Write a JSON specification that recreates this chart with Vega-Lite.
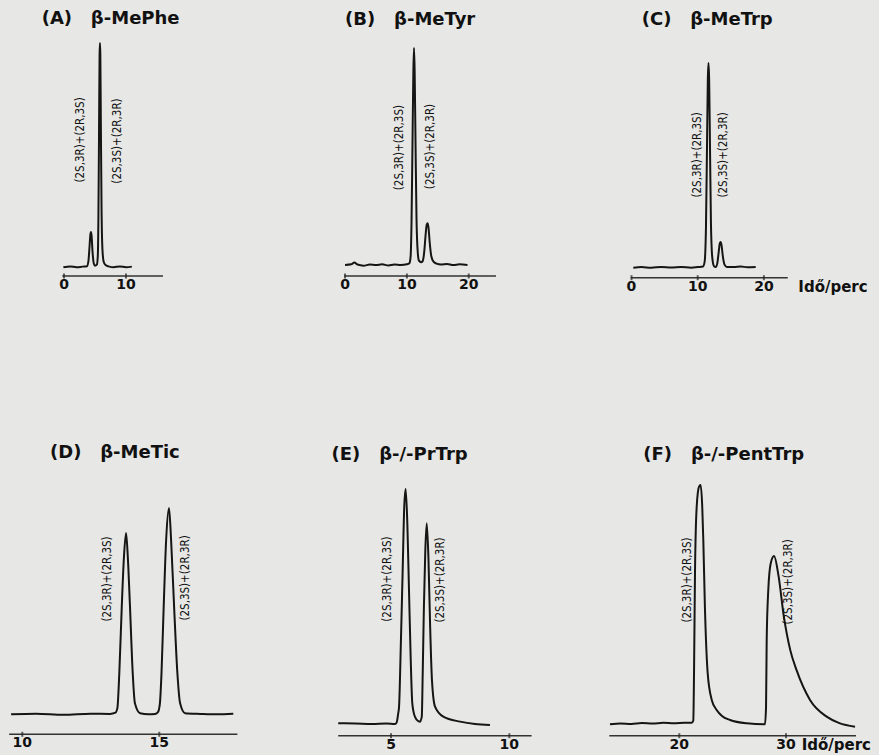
{
  "$schema": "https://vega.github.io/schema/vega-lite/v6.json",
  "width": 879,
  "height": 755,
  "autosize": {"type": "fit", "contains": "padding"},
  "padding": 0,
  "background": "#e7e7e5",
  "config": {
    "view": {"stroke": null},
    "text": {"font": "DejaVu Sans", "color": "#111111"},
    "line": {"color": "#151515", "strokeWidth": 2, "interpolate": "monotone", "strokeJoin": "round"},
    "rule": {"color": "#333333", "strokeWidth": 1.5},
    "tick": {"color": "#222222", "orient": "vertical", "size": 5, "thickness": 2}
  },
  "resolve": {"scale": {"x": "independent", "y": "independent"}},
  "layer": [
    {
      "encoding": {
        "x": {"field": "t", "type": "quantitative", "axis": null, "scale": {"domain": [-10.3226, 131.4516], "nice": false, "zero": false}},
        "y": {"field": "s", "type": "quantitative", "axis": null, "scale": {"domain": [-217.43, 119.17], "nice": false, "zero": false}}
      },
      "layer": [
        {
          "data": {"values": [
            {"t": -0.1, "s": 0}, {"t": 1.0, "s": 0.4}, {"t": 2.0, "s": 0}, {"t": 3.0, "s": 0.3}, {"t": 3.7, "s": 0.5},
            {"t": 3.95, "s": 3}, {"t": 4.1, "s": 8.5}, {"t": 4.25, "s": 14.5}, {"t": 4.35, "s": 15.7}, {"t": 4.45, "s": 14},
            {"t": 4.6, "s": 7}, {"t": 4.8, "s": 1.8}, {"t": 5.0, "s": 0.7}, {"t": 5.3, "s": 1.2}, {"t": 5.45, "s": 5},
            {"t": 5.55, "s": 22}, {"t": 5.65, "s": 60}, {"t": 5.74, "s": 95}, {"t": 5.8, "s": 100}, {"t": 5.86, "s": 95},
            {"t": 5.95, "s": 62}, {"t": 6.05, "s": 28}, {"t": 6.2, "s": 8}, {"t": 6.4, "s": 2.5}, {"t": 6.7, "s": 1},
            {"t": 7.2, "s": 0.4}, {"t": 8.0, "s": 0}, {"t": 9.0, "s": 0.4}, {"t": 10.0, "s": 0}, {"t": 10.95, "s": 0.3}
          ]},
          "mark": {"type": "line"}
        },
        {"data": {"values": [{"t": -0.27, "t1": 15.97, "s": -3.88}]}, "mark": {"type": "rule"}, "encoding": {"x2": {"field": "t1"}}},
        {
          "data": {"values": [{"t": 0, "s": -3.88}, {"t": 10, "s": -3.88}]},
          "layer": [
            {"mark": {"type": "tick"}},
            {"mark": {"type": "text", "fontSize": 14, "fontWeight": "bold", "baseline": "middle", "dy": 9}, "encoding": {"text": {"field": "t", "type": "quantitative", "format": "d"}}}
          ]
        },
        {
          "data": {"values": [{"t": 2.82, "s": 56.8, "label": "(2S,3R)+(2R,3S)"}, {"t": 8.79, "s": 56.3, "label": "(2S,3S)+(2R,3R)"}]},
          "mark": {"type": "text", "angle": 270, "font": "DejaVu Sans Condensed, Liberation Sans, sans-serif", "fontSize": 11.5, "baseline": "middle", "align": "center"},
          "encoding": {"text": {"field": "label"}}
        },
        {
          "data": {"values": [{"t": -3.6, "s": 108.5, "title": "(A)\u00a0\u00a0\u00a0β-MePhe"}]},
          "mark": {"type": "text", "fontSize": 18, "fontWeight": "bold", "align": "left", "baseline": "alphabetic"},
          "encoding": {"text": {"field": "title"}}
        }
      ]
    },
    {
      "encoding": {
        "x": {"field": "t", "type": "quantitative", "axis": null, "scale": {"domain": [-55.788, 86.33], "nice": false, "zero": false}},
        "y": {"field": "s", "type": "quantitative", "axis": null, "scale": {"domain": [-225.81, 122.12], "nice": false, "zero": false}}
      },
      "layer": [
        {
          "data": {"values": [
            {"t": 0, "s": 0}, {"t": 1, "s": 0.3}, {"t": 1.5, "s": 1.2}, {"t": 2, "s": 0.2}, {"t": 3, "s": -0.3},
            {"t": 4, "s": 0.2}, {"t": 5, "s": 0}, {"t": 6, "s": 0.3}, {"t": 7, "s": -0.2}, {"t": 8, "s": 0.2},
            {"t": 9, "s": 0}, {"t": 10, "s": 0.3}, {"t": 10.4, "s": 0.8}, {"t": 10.6, "s": 4}, {"t": 10.75, "s": 20},
            {"t": 10.9, "s": 55}, {"t": 11.05, "s": 90}, {"t": 11.15, "s": 100}, {"t": 11.25, "s": 90}, {"t": 11.4, "s": 55},
            {"t": 11.55, "s": 22}, {"t": 11.75, "s": 6}, {"t": 11.95, "s": 2}, {"t": 12.3, "s": 1.3}, {"t": 12.55, "s": 1.8},
            {"t": 12.8, "s": 6}, {"t": 13.0, "s": 13}, {"t": 13.2, "s": 18.5}, {"t": 13.36, "s": 19.2}, {"t": 13.5, "s": 17},
            {"t": 13.7, "s": 10}, {"t": 13.95, "s": 4}, {"t": 14.3, "s": 1.5}, {"t": 14.8, "s": 0.6}, {"t": 15.5, "s": 0.2},
            {"t": 16.5, "s": 0.5}, {"t": 17.5, "s": 0}, {"t": 18.5, "s": 0.3}, {"t": 19.8, "s": 0}
          ]},
          "mark": {"type": "line"}
        },
        {"data": {"values": [{"t": -0.12, "t1": 24.4, "s": -5.07}]}, "mark": {"type": "rule"}, "encoding": {"x2": {"field": "t1"}}},
        {
          "data": {"values": [{"t": 0, "s": -5.07}, {"t": 10, "s": -5.07}, {"t": 20, "s": -5.07}]},
          "layer": [
            {"mark": {"type": "tick"}},
            {"mark": {"type": "text", "fontSize": 14, "fontWeight": "bold", "baseline": "middle", "dy": 9}, "encoding": {"text": {"field": "t", "type": "quantitative", "format": "d"}}}
          ]
        },
        {
          "data": {"values": [{"t": 8.88, "s": 54.1, "label": "(2S,3R)+(2R,3S)"}, {"t": 13.9, "s": 54.6, "label": "(2S,3S)+(2R,3R)"}]},
          "mark": {"type": "text", "angle": 270, "font": "DejaVu Sans Condensed, Liberation Sans, sans-serif", "fontSize": 11.5, "baseline": "middle", "align": "center"},
          "encoding": {"text": {"field": "label"}}
        },
        {
          "data": {"values": [{"t": 0, "s": 110.6, "title": "(B)\u00a0\u00a0\u00a0β-MeTyr"}]},
          "mark": {"type": "text", "fontSize": 18, "fontWeight": "bold", "align": "left", "baseline": "alphabetic"},
          "encoding": {"text": {"field": "title"}}
        }
      ]
    },
    {
      "encoding": {
        "x": {"field": "t", "type": "quantitative", "axis": null, "scale": {"domain": [-95.393, 37.387], "nice": false, "zero": false}},
        "y": {"field": "s", "type": "quantitative", "axis": null, "scale": {"domain": [-238.06, 130.78], "nice": false, "zero": false}}
      },
      "layer": [
        {
          "data": {"values": [
            {"t": 0.27, "s": 0}, {"t": 1.5, "s": 0.3}, {"t": 3, "s": 0}, {"t": 4.5, "s": 0.4}, {"t": 6, "s": 0.1},
            {"t": 7.5, "s": 0.4}, {"t": 9, "s": 0}, {"t": 10, "s": 0.3}, {"t": 10.8, "s": 0.6}, {"t": 11.05, "s": 3},
            {"t": 11.25, "s": 20}, {"t": 11.4, "s": 58}, {"t": 11.53, "s": 92}, {"t": 11.63, "s": 100}, {"t": 11.73, "s": 92},
            {"t": 11.86, "s": 58}, {"t": 12.0, "s": 22}, {"t": 12.2, "s": 5}, {"t": 12.45, "s": 0.8}, {"t": 12.72, "s": 0.3},
            {"t": 12.95, "s": 2}, {"t": 13.15, "s": 7}, {"t": 13.35, "s": 12}, {"t": 13.47, "s": 12.5}, {"t": 13.6, "s": 11},
            {"t": 13.8, "s": 5.5}, {"t": 14.05, "s": 1.5}, {"t": 14.4, "s": 0.4}, {"t": 15.5, "s": 0.3}, {"t": 16.5, "s": 0.6},
            {"t": 17.5, "s": 0.2}, {"t": 18.76, "s": 0.4}
          ]},
          "mark": {"type": "line"}
        },
        {"data": {"values": [{"t": -0.1, "t1": 23.6, "s": -4.89}]}, "mark": {"type": "rule"}, "encoding": {"x2": {"field": "t1"}}},
        {
          "data": {"values": [{"t": 0, "s": -4.89}, {"t": 10, "s": -4.89}, {"t": 20, "s": -4.89}]},
          "layer": [
            {"mark": {"type": "tick"}},
            {"mark": {"type": "text", "fontSize": 14, "fontWeight": "bold", "baseline": "middle", "dy": 9}, "encoding": {"text": {"field": "t", "type": "quantitative", "format": "d"}}}
          ]
        },
        {
          "data": {"values": [{"t": 25.2, "s": -4.89, "unit": "Idő/perc"}]},
          "mark": {"type": "text", "fontSize": 15, "fontWeight": "bold", "align": "left", "baseline": "middle", "dy": 9},
          "encoding": {"text": {"field": "unit"}}
        },
        {
          "data": {"values": [{"t": 9.97, "s": 55.1, "label": "(2S,3R)+(2R,3S)"}, {"t": 13.97, "s": 55.1, "label": "(2S,3S)+(2R,3R)"}]},
          "mark": {"type": "text", "angle": 270, "font": "DejaVu Sans Condensed, Liberation Sans, sans-serif", "fontSize": 11.5, "baseline": "middle", "align": "center"},
          "encoding": {"text": {"field": "label"}}
        },
        {
          "data": {"values": [{"t": 1.54, "s": 118.6, "title": "(C)\u00a0\u00a0\u00a0β-MeTrp"}]},
          "mark": {"type": "text", "fontSize": 18, "fontWeight": "bold", "align": "left", "baseline": "alphabetic"},
          "encoding": {"text": {"field": "title"}}
        }
      ]
    },
    {
      "encoding": {
        "x": {"field": "t", "type": "quantitative", "axis": null, "scale": {"domain": [9.186, 41.266], "nice": false, "zero": false}},
        "y": {"field": "s", "type": "quantitative", "axis": null, "scale": {"domain": [-19.73, 346.25], "nice": false, "zero": false}}
      },
      "layer": [
        {
          "data": {"values": [
            {"t": 9.59, "s": 0}, {"t": 10.5, "s": 0.3}, {"t": 11.5, "s": -0.2}, {"t": 12.5, "s": 0.3}, {"t": 13.2, "s": 0.2},
            {"t": 13.4, "s": 0.8}, {"t": 13.47, "s": 3}, {"t": 13.54, "s": 19.9}, {"t": 13.63, "s": 52.2}, {"t": 13.71, "s": 76.4},
            {"t": 13.786, "s": 87.9}, {"t": 13.85, "s": 76.4}, {"t": 13.93, "s": 52.2}, {"t": 14.03, "s": 19.9}, {"t": 14.11, "s": 5.3},
            {"t": 14.3, "s": 0.5}, {"t": 14.6, "s": 0}, {"t": 14.85, "s": 0.2}, {"t": 14.95, "s": 1.0}, {"t": 15.02, "s": 5},
            {"t": 15.08, "s": 19.9}, {"t": 15.16, "s": 52.2}, {"t": 15.25, "s": 84.6}, {"t": 15.355, "s": 100}, {"t": 15.43, "s": 84.6},
            {"t": 15.54, "s": 52.2}, {"t": 15.66, "s": 19.9}, {"t": 15.76, "s": 5.3}, {"t": 15.94, "s": 0.5}, {"t": 16.5, "s": 0.2},
            {"t": 17.1, "s": 0}, {"t": 17.7, "s": 0.3}
          ]},
          "mark": {"type": "line"}
        },
        {"data": {"values": [{"t": 9.52, "t1": 17.85, "s": -9.69}]}, "mark": {"type": "rule"}, "encoding": {"x2": {"field": "t1"}}},
        {
          "data": {"values": [{"t": 10, "s": -9.69}, {"t": 15, "s": -9.69}]},
          "layer": [
            {"mark": {"type": "tick"}},
            {"mark": {"type": "text", "fontSize": 14, "fontWeight": "bold", "baseline": "middle", "dy": 9}, "encoding": {"text": {"field": "t", "type": "quantitative", "format": "d"}}}
          ]
        },
        {
          "data": {"values": [{"t": 13.14, "s": 65.6, "label": "(2S,3R)+(2R,3S)"}, {"t": 15.97, "s": 66.1, "label": "(2S,3S)+(2R,3R)"}]},
          "mark": {"type": "text", "angle": 270, "font": "DejaVu Sans Condensed, Liberation Sans, sans-serif", "fontSize": 11.5, "baseline": "middle", "align": "center"},
          "encoding": {"text": {"field": "label"}}
        },
        {
          "data": {"values": [{"t": 11.01, "s": 124.1, "title": "(D)\u00a0\u00a0\u00a0β-MeTic"}]},
          "mark": {"type": "text", "fontSize": 18, "fontWeight": "bold", "align": "left", "baseline": "alphabetic"},
          "encoding": {"text": {"field": "title"}}
        }
      ]
    },
    {
      "encoding": {
        "x": {"field": "t", "type": "quantitative", "axis": null, "scale": {"domain": [-11.519, 25.617], "nice": false, "zero": false}},
        "y": {"field": "s", "type": "quantitative", "axis": null, "scale": {"domain": [-13.43, 308.53], "nice": false, "zero": false}}
      },
      "layer": [
        {
          "data": {"values": [
            {"t": 2.77, "s": 0.1}, {"t": 3.5, "s": 0}, {"t": 4.2, "s": -0.2}, {"t": 4.8, "s": 0}, {"t": 5.17, "s": -0.2},
            {"t": 5.24, "s": 0.5}, {"t": 5.3, "s": 4}, {"t": 5.34, "s": 7.2}, {"t": 5.42, "s": 35.6}, {"t": 5.49, "s": 64},
            {"t": 5.56, "s": 92.5}, {"t": 5.62, "s": 100}, {"t": 5.69, "s": 85.4}, {"t": 5.76, "s": 56.9}, {"t": 5.83, "s": 28.5},
            {"t": 5.9, "s": 8.6}, {"t": 6.01, "s": 2.9}, {"t": 6.15, "s": 1.0}, {"t": 6.23, "s": 0.8}, {"t": 6.3, "s": 2.9},
            {"t": 6.34, "s": 21.4}, {"t": 6.39, "s": 49.8}, {"t": 6.45, "s": 74}, {"t": 6.51, "s": 85.4}, {"t": 6.58, "s": 71.1},
            {"t": 6.65, "s": 42.7}, {"t": 6.73, "s": 18.6}, {"t": 6.86, "s": 7.2}, {"t": 7.21, "s": 2.9}, {"t": 7.92, "s": 0.8},
            {"t": 8.55, "s": -0.2}, {"t": 9.18, "s": -0.6}
          ]},
          "mark": {"type": "line"}
        },
        {"data": {"values": [{"t": 2.77, "t1": 10.94, "s": -5.2}]}, "mark": {"type": "rule"}, "encoding": {"x2": {"field": "t1"}}},
        {
          "data": {"values": [{"t": 5, "s": -5.2}, {"t": 10, "s": -5.2}]},
          "layer": [
            {"mark": {"type": "tick"}},
            {"mark": {"type": "text", "fontSize": 14, "fontWeight": "bold", "baseline": "middle", "dy": 9}, "encoding": {"text": {"field": "t", "type": "quantitative", "format": "d"}}}
          ]
        },
        {
          "data": {"values": [{"t": 4.89, "s": 61.6, "label": "(2S,3R)+(2R,3S)"}, {"t": 7.11, "s": 61.2, "label": "(2S,3S)+(2R,3R)"}]},
          "mark": {"type": "text", "angle": 270, "font": "DejaVu Sans Condensed, Liberation Sans, sans-serif", "fontSize": 11.5, "baseline": "middle", "align": "center"},
          "encoding": {"text": {"field": "label"}}
        },
        {
          "data": {"values": [{"t": 2.49, "s": 112.4, "title": "(E)\u00a0\u00a0\u00a0β-/-PrTrp"}]},
          "mark": {"type": "text", "fontSize": 18, "fontWeight": "bold", "align": "left", "baseline": "alphabetic"},
          "encoding": {"text": {"field": "title"}}
        }
      ]
    },
    {
      "encoding": {
        "x": {"field": "t", "type": "quantitative", "axis": null, "scale": {"domain": [-43.665, 38.716], "nice": false, "zero": false}},
        "y": {"field": "s", "type": "quantitative", "axis": null, "scale": {"domain": [-12.83, 302.67], "nice": false, "zero": false}}
      },
      "layer": [
        {
          "data": {"values": [
            {"t": 13.5, "s": 0}, {"t": 14.5, "s": 0.3}, {"t": 15.5, "s": 0.1}, {"t": 16.5, "s": 0.5}, {"t": 17.5, "s": 0.3},
            {"t": 18.5, "s": 0.6}, {"t": 19.5, "s": 0.4}, {"t": 20.5, "s": 0.6}, {"t": 21.16, "s": 0.6}, {"t": 21.31, "s": 1.5},
            {"t": 21.38, "s": 21.3}, {"t": 21.47, "s": 63.1}, {"t": 21.63, "s": 90.9}, {"t": 21.85, "s": 99.3}, {"t": 22.0, "s": 100},
            {"t": 22.15, "s": 90.9}, {"t": 22.25, "s": 77}, {"t": 22.4, "s": 49}, {"t": 22.66, "s": 21.4}, {"t": 23.04, "s": 10.2},
            {"t": 23.5, "s": 6}, {"t": 24.0, "s": 3.5}, {"t": 24.75, "s": 1.8}, {"t": 26.32, "s": 0.4}, {"t": 28.03, "s": 0},
            {"t": 28.13, "s": 7.4}, {"t": 28.19, "s": 35.2}, {"t": 28.34, "s": 56.1}, {"t": 28.57, "s": 67.3}, {"t": 28.88, "s": 70.3},
            {"t": 29.3, "s": 62}, {"t": 29.8, "s": 45}, {"t": 30.4, "s": 31}, {"t": 31.0, "s": 22.5}, {"t": 32.25, "s": 10.2},
            {"t": 33.81, "s": 3.2}, {"t": 35.0, "s": 0.5}, {"t": 36.47, "s": -1.0}
          ]},
          "mark": {"type": "line"}
        },
        {"data": {"values": [{"t": 13.44, "t1": 36.56, "s": -4.76}]}, "mark": {"type": "rule"}, "encoding": {"x2": {"field": "t1"}}},
        {
          "data": {"values": [{"t": 20, "s": -4.76}, {"t": 30, "s": -4.76}]},
          "layer": [
            {"mark": {"type": "tick"}},
            {"mark": {"type": "text", "fontSize": 14, "fontWeight": "bold", "baseline": "middle", "dy": 9}, "encoding": {"text": {"field": "t", "type": "quantitative", "format": "d"}}}
          ]
        },
        {
          "data": {"values": [{"t": 31.47, "s": -4.76, "unit": "Idő/perc"}]},
          "mark": {"type": "text", "fontSize": 15, "fontWeight": "bold", "align": "left", "baseline": "middle", "dy": 9},
          "encoding": {"text": {"field": "unit"}}
        },
        {
          "data": {"values": [{"t": 20.82, "s": 60.3, "label": "(2S,3R)+(2R,3S)"}, {"t": 30.25, "s": 59.5, "label": "(2S,3S)+(2R,3R)"}]},
          "mark": {"type": "text", "angle": 270, "font": "DejaVu Sans Condensed, Liberation Sans, sans-serif", "fontSize": 11.5, "baseline": "middle", "align": "center"},
          "encoding": {"text": {"field": "label"}}
        },
        {
          "data": {"values": [{"t": 16.63, "s": 110.4, "title": "(F)\u00a0\u00a0\u00a0β-/-PentTrp"}]},
          "mark": {"type": "text", "fontSize": 18, "fontWeight": "bold", "align": "left", "baseline": "alphabetic"},
          "encoding": {"text": {"field": "title"}}
        }
      ]
    }
  ]
}
